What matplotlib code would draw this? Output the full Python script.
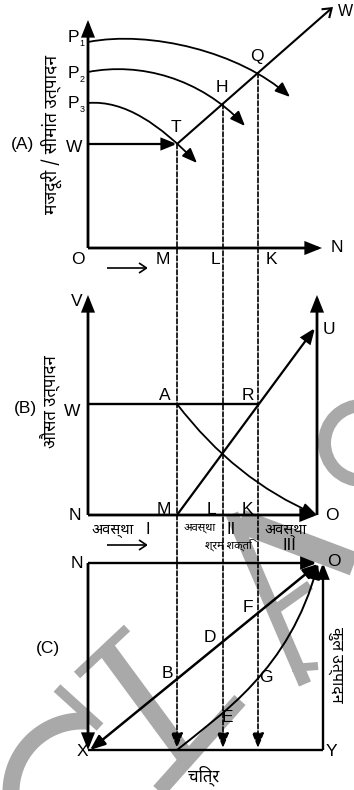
import matplotlib
matplotlib.use("Agg")
import numpy as np
import matplotlib.pyplot as plt
from matplotlib.patches import FancyArrowPatch, Circle
from matplotlib.path import Path

LATIN = ['Liberation Sans', 'DejaVu Sans']
HINDI = ['Noto Sans Devanagari', 'Ek Mukta', 'FreeSans', 'DejaVu Sans']

# ---------------- diagram geometry (drawing units) ----------------
axis_x = 88

# Panel (A): wage / marginal product
a_base, a_top, a_right = 248, 20, 322
wage_y = 144
emp_x = [177, 223, 258]            # M, L, K
emp_names = ['M', 'L', 'K']
emp_label_x_a = [163, 215, 271]
emp_label_x_b = [164, 211, 247]
eq_names = ['T', 'H', 'Q']
eq_y = [144, 104, 73]              # T, H, Q on the labour supply line
supply_end = (333, 7)
mp_subs = ['1', '2', '3']
mp_label_y = [38, 73, 103]
mp_curves = [
    [(88, 42), (150, 30), (240, 52), (290, 97)],
    [(88, 72), (140, 62), (200, 78), (245, 126)],
    [(88, 103), (125, 100), (160, 125), (197, 163)],
]

# Panel (B): average product
b_base, b_top, b_right = 515, 295, 317
b_wage = 404
ap_curve = [(177, 404), (235, 480), (317, 515)]
mu_end = (315, 328)

# Panel (C): total product
c_top, c_bottom, c_left, c_right = 563, 750, 88, 323
c_O = (318, 564)
c_X = (90, 750)
tp_curve = [(177, 750), (220, 715), (290, 670), (318, 564)]
drop_end = 748

fig = plt.figure(figsize=(3.54, 7.9), dpi=100)
ax = fig.add_axes([0, 0, 1, 1])
ax.set_xlim(0, 354)
ax.set_ylim(790, 0)
ax.axis('off')

K = 'black'
GREY = '#a9a9a9'
AX_LW = 2.0


def px(v):
    return v * 72.0 / 100.0


def arrow(a, b, lw=AX_LW, style='-|>', hl=0.75, hw=0.3, ms=12, z=3):
    st = f'{style},head_length={hl},head_width={hw}'
    p = FancyArrowPatch(a, b, arrowstyle=st, mutation_scale=ms, shrinkA=0,
                        shrinkB=0, lw=lw, color=K, zorder=z,
                        joinstyle='miter', capstyle='butt')
    ax.add_patch(p)


def curve(pts, lw=1.3, style='-|>', hl=0.75, hw=0.3, ms=12):
    if len(pts) == 4:
        codes = [Path.MOVETO, Path.CURVE4, Path.CURVE4, Path.CURVE4]
    else:
        codes = [Path.MOVETO, Path.CURVE3, Path.CURVE3]
    st = f'{style},head_length={hl},head_width={hw}'
    p = FancyArrowPatch(path=Path(pts, codes), arrowstyle=st, mutation_scale=ms,
                        lw=lw, color=K, zorder=3)
    ax.add_patch(p)


def line(xs, ys, lw=AX_LW, **kw):
    ax.plot(xs, ys, color=K, lw=lw, solid_capstyle='butt', zorder=3, **kw)


def lab(x, y, s, size=12.5, ha='center', va='center', fam=LATIN, **kw):
    ax.text(x, y, s, fontsize=size, ha=ha, va=va, family=fam, color=K,
            zorder=5, **kw)


# ---------------- background lettering ----------------
def band(p, q, w):
    ax.plot([p[0], q[0]], [p[1], q[1]], color=GREY, lw=px(w),
            solid_capstyle='butt', zorder=0)


th = np.radians(np.linspace(84, 200, 80))
ax.plot(82 + 71 * np.cos(th), 792 - 71 * np.sin(th), color=GREY, lw=px(17),
        solid_capstyle='butt', zorder=0)
band((57, 688), (100, 727), 10)
band((77, 675), (127, 628), 9)
band((107, 650), (188, 760), 18)
band((158, 792), (240, 700), 15)
band((232, 514), (305, 684), 13)
band((240, 521), (354, 564), 24)
band((272, 612), (310, 585), 10)
band((292, 668), (318, 666), 8)
ax.add_patch(Circle((362, 443), 37.5, fill=False, ec=GREY, lw=px(13),
                    zorder=0))

# ---------------- panel (A) ----------------
arrow((axis_x, a_base), (axis_x, a_top))
arrow((axis_x, a_base), (a_right, a_base))
arrow((axis_x, wage_y), (emp_x[0], wage_y), lw=1.6)
arrow((emp_x[0], eq_y[0]), supply_end, lw=1.5, style='->', hl=0.5, hw=0.35)
for pts in mp_curves:
    curve(pts)

for n, y in zip(mp_subs, mp_label_y):
    lab(73, y, 'P')
    lab(82, y + 6, n, size=6.5)
lab(74, wage_y + 3, 'W')
lab(22, wage_y, '(A)')
lab(338, 12, 'W', ha='left', size=11.5)
for name, x, y in zip(eq_names, emp_x, eq_y):
    lab(x - 1, y - 16, name)
lab(78, 259, 'O')
for name, x in zip(emp_names, emp_label_x_a):
    lab(x, 259, name)
lab(337, 248, 'N')
arrow((107, 268), (148, 268), lw=1.2, style='->', hl=0.45, hw=0.3)
lab(51, 134, 'मजदूरी / सीमांत उत्पादन', size=12.5, fam=HINDI, rotation=90)

# vertical dashed guides running through all panels
for x, y in zip(emp_x, eq_y):
    p = FancyArrowPatch((x, y), (x, drop_end),
                        arrowstyle='-|>,head_length=0.75,head_width=0.3',
                        mutation_scale=12, shrinkA=0, shrinkB=0, lw=1.2,
                        color=K, linestyle=(0, (2.8, 1.4)), zorder=2)
    ax.add_patch(p)

# ---------------- panel (B) ----------------
arrow((axis_x, b_base), (axis_x, b_top))
arrow((axis_x, b_base), (b_right, b_base))
arrow((b_right, b_base), (b_right, b_top))
line([axis_x, emp_x[2]], [b_wage, b_wage], lw=1.7)
curve(ap_curve)
arrow((emp_x[0], b_base), mu_end, lw=1.6)

lab(77, 302, 'V')
lab(72, 411, 'W')
lab(25, 408, '(B)')
lab(50, 402, 'औसत उत्पादन', size=12, fam=HINDI, rotation=90)
lab(165, 396, 'A')
lab(248, 396, 'R')
lab(329, 329, 'U')
lab(75, 516, 'N')
lab(332, 516, 'O')
for name, x in zip(emp_names, emp_label_x_b):
    lab(x, 509, name)

lab(92, 530, 'अवस्था', size=10.5, fam=HINDI, ha='left')
lab(148, 530, 'I', size=12)
lab(200, 528, 'अवस्था', size=8, fam=HINDI)
lab(231, 530, 'II', size=12)
lab(286, 530, 'अवस्था', size=10.5, fam=HINDI)
lab(289, 546, 'III', size=12)
lab(228, 545, 'श्रम शक्ति', size=8, fam=HINDI)
arrow((107, 545), (148, 545), lw=1.2, style='->', hl=0.45, hw=0.3)

# ---------------- panel (C) ----------------
arrow((c_left, c_top), (c_O[0] - 1, c_top), lw=1.7)
arrow((c_left, c_top), (c_left, c_bottom))
line([c_left, c_right], [c_bottom, c_bottom], lw=1.7)
arrow((c_right, c_bottom), (c_right, c_top), lw=1.7)
p = FancyArrowPatch(c_X, c_O, arrowstyle='<|-|>,head_length=0.75,head_width=0.3',
                    mutation_scale=12, shrinkA=0, shrinkB=0, lw=1.8, color=K,
                    zorder=3)
ax.add_patch(p)
curve(tp_curve, lw=1.4)

lab(77, 564, 'N')
lab(334, 561, 'O')
lab(82, 752, 'X')
lab(331, 752, 'Y')
lab(48, 648, '(C)')
lab(167, 673, 'B')
lab(210, 637, 'D')
lab(248, 608, 'F')
lab(266, 677, 'G')
lab(227, 718, 'E')
lab(336, 665, 'कुल उत्पादन', size=11.5, fam=HINDI, rotation=270)
lab(204, 776, 'चित्र', size=12, fam=HINDI)

fig.savefig('out.png', dpi=100)
